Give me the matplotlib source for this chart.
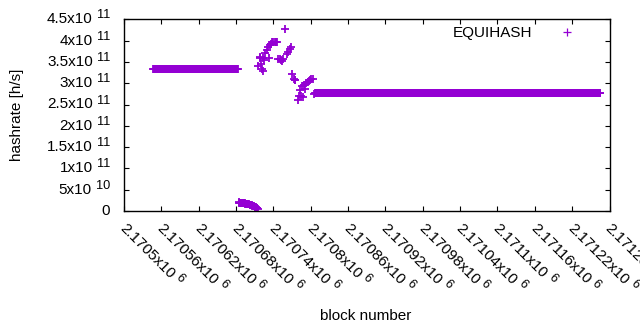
import numpy as np
import matplotlib
matplotlib.use('Agg')
import matplotlib.pyplot as plt

plt.rcParams['font.family'] = ['Liberation Sans', 'DejaVu Sans']

# ---------------- data ----------------
# first plateau (one point per block)
flat1_first_block = 2170547
flat1_last_block = 2170683
flat1_hashrate = 3.345e11

# low, declining run right after the plateau
low_blocks = np.arange(2170684, 2170716)
low_hashrate = np.array([2.00, 1.98, 1.96, 1.95, 1.93, 1.91, 1.89, 1.87, 1.84, 1.82,
                         1.79, 1.76, 1.73, 1.70, 1.66, 1.62, 1.58, 1.54, 1.49, 1.44,
                         1.39, 1.33, 1.27, 1.21, 1.14, 1.07, 0.99, 0.91, 0.83, 0.74,
                         0.65, 0.55]) * 1e10

# scattered transition region
scatter_blocks = np.array([216, 218, 219, 220, 222, 223, 224, 225, 227, 229,
                           231, 233, 234, 236, 238, 240, 242, 244, 246, 248,
                           250, 252, 254, 256, 259, 262, 264, 266, 268, 270,
                           273, 274, 275, 279, 281, 283, 284, 286, 288, 289,
                           291, 293, 295, 297, 299, 301, 303, 305, 307]) + 2170500
scatter_hashrate = np.array([3.41, 3.62, 3.58, 3.45, 3.34, 3.60, 3.29, 3.54, 3.70, 3.77,
                             3.85, 3.60, 3.90, 3.93, 3.96, 3.97, 3.97, 3.96, 3.96, 3.57,
                             3.56, 3.55, 3.51, 3.56, 4.28, 3.68, 3.74, 3.80, 3.85, 3.21,
                             3.10, 3.08, 3.07, 2.60, 2.71, 2.84, 2.70, 2.93, 2.68, 2.96,
                             2.87, 3.00, 3.03, 3.05, 3.08, 3.10, 3.09, 2.74, 2.76]) * 1e11

# second plateau
flat2_first_block = 2170808
flat2_last_block = 2171265
flat2_hashrate = 2.78e11

series_label = 'EQUIHASH'

x_ticks = [2170500, 2170560, 2170620, 2170680, 2170740, 2170800, 2170860,
           2170920, 2170980, 2171040, 2171100, 2171160, 2171220, 2171280]
x_tick_mant = ['2.1705', '2.17056', '2.17062', '2.17068', '2.17074', '2.1708', '2.17086',
               '2.17092', '2.17098', '2.17104', '2.1711', '2.17116', '2.17122', '2.17128']
x_tick_exp = ['6'] * len(x_ticks)

y_ticks = [0, 5e10, 1e11, 1.5e11, 2e11, 2.5e11, 3e11, 3.5e11, 4e11, 4.5e11]
y_tick_mant = ['0', '5', '1', '1.5', '2', '2.5', '3', '3.5', '4', '4.5']
y_tick_exp = ['', '10', '11', '11', '11', '11', '11', '11', '11', '11']

# ---------------- assemble ----------------
flat1_blocks = np.arange(flat1_first_block, flat1_last_block + 1)
flat2_blocks = np.arange(flat2_first_block, flat2_last_block + 1)
blocks = np.concatenate([flat1_blocks, low_blocks, scatter_blocks, flat2_blocks])
hashrate = np.concatenate([np.full(len(flat1_blocks), flat1_hashrate), low_hashrate,
                           scatter_hashrate, np.full(len(flat2_blocks), flat2_hashrate)])

W, H = 640, 330
fig = plt.figure(figsize=(W / 100, H / 100), dpi=100)
L, R, T, B = 124, 609.5, 19.3, 211
ax = fig.add_axes([L / W, (H - B) / H, (R - L) / W, (B - T) / H])

color = '#9400d3'
ax.plot(blocks, hashrate, '+', color=color, markersize=5.8, markeredgewidth=1.3,
        label=series_label)

ax.set_xlim(x_ticks[0], x_ticks[-1])
ax.set_ylim(0, 4.5e11)
ax.set_xticks(x_ticks)
ax.set_yticks(y_ticks)
ax.tick_params(direction='in', top=True, right=True, length=3.3, width=0.8,
               labelbottom=False, labelleft=False)
for s in ax.spines.values():
    s.set_linewidth(1.0)

FS = 11
EFS = 9.2
leg = ax.legend(loc='upper right', bbox_to_anchor=(0.928, 0.964), markerfirst=False,
                frameon=False, borderpad=0, borderaxespad=0, handlelength=1.0,
                handletextpad=1.8, fontsize=FS)
for h in leg.legend_handles:
    h.set_markeredgewidth(0.9)
    h.set_markersize(5.4)

fig.canvas.draw()
rend = fig.canvas.get_renderer()
inv = fig.transFigure.inverted()


def text_width(s, fs):
    t = fig.text(0, 0, s, fontsize=fs)
    w = t.get_window_extent(rend).width
    t.remove()
    return w


gap = 4.0
raise_px = 4.0

# y tick labels
for v, m, e in zip(y_ticks, y_tick_mant, y_tick_exp):
    px, py = ax.transData.transform((x_ticks[0], v))
    xr = px - 14
    if e:
        fig.text(*inv.transform((xr, py + raise_px)), e, fontsize=EFS,
                 ha='right', va='center')
        ew = text_width(e, EFS)
        fig.text(*inv.transform((xr - ew - gap, py)), m + 'x10', fontsize=FS,
                 ha='right', va='center')
    else:
        fig.text(*inv.transform((xr, py)), m, fontsize=FS, ha='right', va='center')

# x tick labels, rotated
theta = np.deg2rad(-45)
d = np.array([np.cos(theta), np.sin(theta)])
u = np.array([-np.sin(theta), np.cos(theta)])
for t, m, e in zip(x_ticks, x_tick_mant, x_tick_exp):
    px, py = ax.transData.transform((t, 0))
    anchor = np.array([px - 2, py - 15])
    s = m + 'x10'
    fig.text(*inv.transform(anchor), s, fontsize=FS, rotation=-45,
             rotation_mode='anchor', ha='left', va='center')
    w = text_width(s, FS)
    ep = anchor + (w + gap) * d + raise_px * u
    fig.text(*inv.transform(ep), e, fontsize=EFS, rotation=-45,
             rotation_mode='anchor', ha='left', va='center')

fig.text(16.7 / W, 1 - 115 / H, 'hashrate [h/s]', fontsize=FS, rotation=90,
         ha='center', va='center')
fig.text(366 / W, 1 - 316 / H, 'block number', fontsize=FS, ha='center', va='center')

fig.savefig('out.png', dpi=100)
